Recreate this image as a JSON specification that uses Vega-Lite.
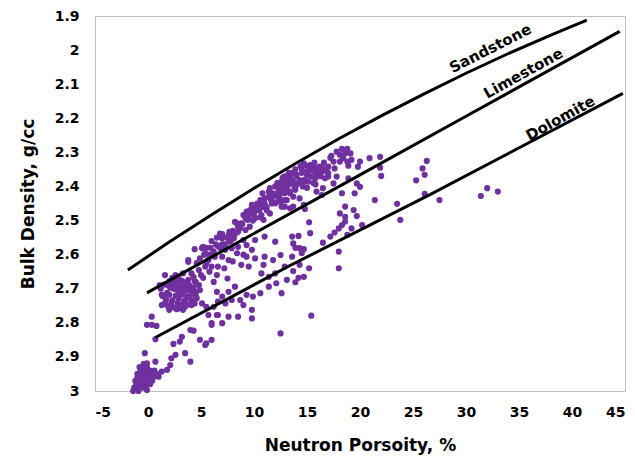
{
"$schema": "https://vega.github.io/schema/vega-lite/v6.json",
"width": 530, "height": 375,
"autosize": {"type": "none"},
"padding": {"left": 95, "top": 16, "right": 10, "bottom": 66},
"background": "white",
"config": {
  "font": "DejaVu Sans",
  "view": {"stroke": "#bfbfbf", "strokeWidth": 1},
  "axis": {"grid": false, "ticks": false, "tickSize": 0, "domain": false, "labelOverlap": false, "labelFont": "DejaVu Sans", "labelFontWeight": "bold", "labelFontSize": 14, "labelColor": "black", "titleFont": "DejaVu Sans", "titleFontWeight": "bold", "titleFontSize": 17, "titleColor": "black"}
},
"datasets": {
"points": [
{"np":21.9,"rhob":2.313},{"np":21.9,"rhob":2.345},{"np":22.0,"rhob":2.369},{"np":26.3,"rhob":2.325},{"np":25.9,"rhob":2.347},{"np":26.1,"rhob":2.366},{"np":25.3,"rhob":2.382},{"np":26.1,"rhob":2.422},{"np":27.5,"rhob":2.44},{"np":23.5,"rhob":2.451},{"np":23.8,"rhob":2.498},{"np":31.4,"rhob":2.428},{"np":32.0,"rhob":2.405},{"np":33.0,"rhob":2.415},
{"np":17.2,"rhob":2.316},{"np":17.8,"rhob":2.298},{"np":18.3,"rhob":2.29},{"np":18.8,"rhob":2.29},{"np":19.1,"rhob":2.303},{"np":18.4,"rhob":2.317},{"np":18.1,"rhob":2.327},{"np":18.9,"rhob":2.339},{"np":19.2,"rhob":2.322},{"np":20.0,"rhob":2.327},{"np":19.8,"rhob":2.342},{"np":20.9,"rhob":2.317},{"np":17.8,"rhob":2.371},{"np":17.0,"rhob":2.371},{"np":17.5,"rhob":2.391},{"np":16.5,"rhob":2.405},{"np":18.3,"rhob":2.42},{"np":18.9,"rhob":2.376},{"np":19.7,"rhob":2.391},{"np":20.0,"rhob":2.401},{"np":19.5,"rhob":2.42},{"np":21.4,"rhob":2.44},{"np":15.8,"rhob":2.394},{"np":15.0,"rhob":2.404},{"np":15.9,"rhob":2.415},{"np":16.4,"rhob":2.425},{"np":13.9,"rhob":2.41},{"np":14.3,"rhob":2.435},{"np":13.7,"rhob":2.43},{"np":13.1,"rhob":2.44},{"np":14.7,"rhob":2.454},{"np":14.8,"rhob":2.466},{"np":13.7,"rhob":2.459},{"np":12.9,"rhob":2.459},{"np":18.6,"rhob":2.459},{"np":18.1,"rhob":2.479},{"np":18.6,"rhob":2.489},{"np":19.4,"rhob":2.469},{"np":19.7,"rhob":2.487},{"np":18.6,"rhob":2.503},{"np":18.3,"rhob":2.513},{"np":18.0,"rhob":2.523},{"np":19.2,"rhob":2.523},{"np":20.2,"rhob":2.513},{"np":17.6,"rhob":2.535},{"np":17.2,"rhob":2.547},{"np":16.5,"rhob":2.565},{"np":18.8,"rhob":2.542},{"np":15.2,"rhob":2.505},{"np":15.3,"rhob":2.537},{"np":13.6,"rhob":2.547},{"np":14.2,"rhob":2.545},{"np":13.7,"rhob":2.567},{"np":13.9,"rhob":2.58},{"np":14.3,"rhob":2.581},{"np":14.7,"rhob":2.584},{"np":14.5,"rhob":2.596},{"np":18.0,"rhob":2.591},{"np":18.0,"rhob":2.64},{"np":15.2,"rhob":2.64},{"np":14.3,"rhob":2.63},{"np":13.7,"rhob":2.648},{"np":14.2,"rhob":2.668},{"np":14.7,"rhob":2.665},{"np":13.9,"rhob":2.681},{"np":12.6,"rhob":2.713},{"np":15.4,"rhob":2.779},{"np":12.5,"rhob":2.831},{"np":12.5,"rhob":2.601},
{"np":13.1,"rhob":2.376},{"np":13.6,"rhob":2.361},{"np":14.0,"rhob":2.366},{"np":14.5,"rhob":2.347},{"np":14.8,"rhob":2.337},{"np":15.3,"rhob":2.352},{"np":15.6,"rhob":2.342},{"np":15.9,"rhob":2.347},{"np":16.2,"rhob":2.342},{"np":16.5,"rhob":2.347},{"np":16.1,"rhob":2.361},{"np":15.4,"rhob":2.371},{"np":15.0,"rhob":2.366},{"np":14.3,"rhob":2.381},{"np":13.7,"rhob":2.386},{"np":13.2,"rhob":2.396},{"np":12.8,"rhob":2.405},{"np":12.6,"rhob":2.386},{"np":12.9,"rhob":2.42},{"np":13.4,"rhob":2.415},{"np":14.0,"rhob":2.396},{"np":14.7,"rhob":2.386},{"np":15.1,"rhob":2.386},{"np":15.8,"rhob":2.376},{"np":16.7,"rhob":2.376},{"np":16.9,"rhob":2.357},{"np":17.0,"rhob":2.342},{"np":17.5,"rhob":2.327},{"np":17.6,"rhob":2.347},{"np":18.1,"rhob":2.307},{"np":18.6,"rhob":2.303},{"np":18.8,"rhob":2.327},{"np":16.4,"rhob":2.357},{"np":15.3,"rhob":2.337},{"np":14.7,"rhob":2.332},{"np":13.4,"rhob":2.371},{"np":12.5,"rhob":2.415},{"np":12.5,"rhob":2.445},{"np":12.8,"rhob":2.459},{"np":13.4,"rhob":2.464},
{"np":12.9,"rhob":2.391},{"np":13.2,"rhob":2.376},{"np":12.6,"rhob":2.41},{"np":11.8,"rhob":2.425},{"np":11.4,"rhob":2.415},{"np":11.0,"rhob":2.435},{"np":12.0,"rhob":2.449},{"np":12.6,"rhob":2.459},{"np":12.9,"rhob":2.44},{"np":13.4,"rhob":2.42},{"np":10.6,"rhob":2.454},{"np":10.1,"rhob":2.469},{"np":9.8,"rhob":2.479},{"np":9.3,"rhob":2.474},{"np":9.2,"rhob":2.493},{"np":10.1,"rhob":2.493},{"np":10.7,"rhob":2.484},{"np":11.5,"rhob":2.479},{"np":8.8,"rhob":2.508},{"np":8.4,"rhob":2.508},{"np":7.7,"rhob":2.533},{"np":8.5,"rhob":2.533},{"np":9.2,"rhob":2.528},{"np":9.6,"rhob":2.518},{"np":8.1,"rhob":2.552},{"np":7.6,"rhob":2.562},{"np":7.0,"rhob":2.552},{"np":6.6,"rhob":2.575},{"np":7.3,"rhob":2.586},{"np":7.9,"rhob":2.581},{"np":8.5,"rhob":2.577},{"np":8.4,"rhob":2.596},{"np":6.3,"rhob":2.606},{"np":7.0,"rhob":2.606},{"np":7.6,"rhob":2.616},{"np":5.7,"rhob":2.616},{"np":5.1,"rhob":2.581},{"np":4.4,"rhob":2.584},{"np":4.9,"rhob":2.611},{"np":5.4,"rhob":2.635},{"np":6.0,"rhob":2.635},{"np":6.6,"rhob":2.635},{"np":4.8,"rhob":2.645},{"np":4.1,"rhob":2.655},{"np":3.8,"rhob":2.674},{"np":4.4,"rhob":2.679},{"np":3.5,"rhob":2.694},{"np":4.0,"rhob":2.704},{"np":3.7,"rhob":2.723},{"np":4.1,"rhob":2.733},{"np":3.8,"rhob":2.616},{"np":6.8,"rhob":2.538},{"np":7.6,"rhob":2.543},{"np":9.0,"rhob":2.557},{"np":9.3,"rhob":2.572},{"np":10.1,"rhob":2.557},{"np":11.0,"rhob":2.547},{"np":12.0,"rhob":2.562},{"np":9.8,"rhob":2.586},{"np":9.3,"rhob":2.606},{"np":10.1,"rhob":2.611},{"np":11.0,"rhob":2.606},{"np":11.8,"rhob":2.616},{"np":10.9,"rhob":2.63},{"np":9.5,"rhob":2.635},{"np":10.7,"rhob":2.655},{"np":11.4,"rhob":2.665},{"np":12.0,"rhob":2.655},{"np":12.9,"rhob":2.635},{"np":13.6,"rhob":2.606},{"np":13.1,"rhob":2.674},{"np":12.1,"rhob":2.684},{"np":11.4,"rhob":2.694},{"np":10.6,"rhob":2.713},{"np":9.9,"rhob":2.723},{"np":9.3,"rhob":2.718},{"np":8.7,"rhob":2.733},{"np":9.0,"rhob":2.748},{"np":8.2,"rhob":2.694},{"np":7.6,"rhob":2.709},{"np":7.0,"rhob":2.723},{"np":6.5,"rhob":2.709},{"np":6.6,"rhob":2.738},{"np":7.3,"rhob":2.743},{"np":7.9,"rhob":2.733},{"np":6.2,"rhob":2.753},{"np":5.5,"rhob":2.753},{"np":5.1,"rhob":2.743},{"np":4.4,"rhob":2.743},{"np":6.5,"rhob":2.777},{"np":7.0,"rhob":2.801},{"np":7.6,"rhob":2.782},{"np":8.5,"rhob":2.782},{"np":9.8,"rhob":2.787},{"np":9.8,"rhob":2.762},{"np":6.0,"rhob":2.801},{"np":4.9,"rhob":2.85},{"np":5.5,"rhob":2.86},{"np":6.0,"rhob":2.85},{"np":4.0,"rhob":2.821},
{"np":3.7,"rhob":2.683},{"np":4.3,"rhob":2.666},{"np":4.8,"rhob":2.689},{"np":5.2,"rhob":2.668},{"np":4.5,"rhob":2.71},{"np":3.2,"rhob":2.713},{"np":9.0,"rhob":2.484},{"np":9.4,"rhob":2.498},{"np":9.8,"rhob":2.454},{"np":10.4,"rhob":2.469},{"np":10.9,"rhob":2.498},{"np":11.2,"rhob":2.46},{"np":11.7,"rhob":2.434},{"np":8.7,"rhob":2.522},{"np":8.2,"rhob":2.504},{"np":12.3,"rhob":2.405},{"np":12.7,"rhob":2.375},{"np":11.5,"rhob":2.405},{"np":12.1,"rhob":2.425},{"np":13.4,"rhob":2.39},
{"np":5.2,"rhob":2.577},{"np":5.4,"rhob":2.596},{"np":3.8,"rhob":2.621},{"np":4.6,"rhob":2.625},{"np":5.5,"rhob":2.625},{"np":1.6,"rhob":2.66},{"np":2.6,"rhob":2.66},{"np":3.3,"rhob":2.655},{"np":1.1,"rhob":2.689},{"np":1.3,"rhob":2.718},{"np":1.6,"rhob":2.743},{"np":2.2,"rhob":2.753},{"np":2.9,"rhob":2.757},{"np":3.5,"rhob":2.753},{"np":4.1,"rhob":2.748},{"np":4.6,"rhob":2.728},{"np":4.9,"rhob":2.704},{"np":0.35,"rhob":2.782},{"np":6.8,"rhob":2.547},{"np":7.3,"rhob":2.577},{"np":7.7,"rhob":2.533},
{"np":1.2,"rhob":2.7},{"np":1.5,"rhob":2.688},{"np":1.8,"rhob":2.712},{"np":2.1,"rhob":2.697},{"np":2.4,"rhob":2.685},{"np":2.7,"rhob":2.703},{"np":3.0,"rhob":2.692},{"np":3.3,"rhob":2.701},{"np":3.6,"rhob":2.706},{"np":1.4,"rhob":2.722},{"np":1.7,"rhob":2.731},{"np":2.0,"rhob":2.718},{"np":2.3,"rhob":2.734},{"np":2.6,"rhob":2.721},{"np":2.9,"rhob":2.729},{"np":3.2,"rhob":2.717},{"np":3.5,"rhob":2.733},{"np":3.8,"rhob":2.725},{"np":4.1,"rhob":2.716},{"np":1.6,"rhob":2.744},{"np":1.9,"rhob":2.752},{"np":2.2,"rhob":2.741},{"np":2.5,"rhob":2.755},{"np":2.8,"rhob":2.742},{"np":3.1,"rhob":2.749},{"np":3.4,"rhob":2.738},{"np":3.7,"rhob":2.746},{"np":2.0,"rhob":2.678},{"np":2.3,"rhob":2.668},{"np":2.6,"rhob":2.679},{"np":2.9,"rhob":2.671},{"np":3.2,"rhob":2.677},{"np":3.5,"rhob":2.682},{"np":3.9,"rhob":2.69},{"np":4.3,"rhob":2.697},{"np":4.5,"rhob":2.72},{"np":1.3,"rhob":2.748},{"np":2.7,"rhob":2.76},{"np":3.3,"rhob":2.762},{"np":2.0,"rhob":2.762},
{"np":-0.1,"rhob":2.806},{"np":0.35,"rhob":2.806},{"np":0.8,"rhob":2.809},{"np":0.7,"rhob":2.848},{"np":-0.3,"rhob":2.889},{"np":4.3,"rhob":2.823},{"np":3.2,"rhob":2.841},{"np":2.4,"rhob":2.862},{"np":3.0,"rhob":2.855},{"np":5.4,"rhob":2.865},{"np":6.0,"rhob":2.806},{"np":5.7,"rhob":2.777},{"np":6.6,"rhob":2.777},{"np":3.5,"rhob":2.889},{"np":2.2,"rhob":2.904},{"np":2.6,"rhob":2.894},{"np":4.0,"rhob":2.914},{"np":2.1,"rhob":2.924},{"np":1.8,"rhob":2.938},{"np":1.3,"rhob":2.943},{"np":1.0,"rhob":2.958},{"np":0.7,"rhob":2.914},{"np":-0.1,"rhob":2.919},{"np":-0.1,"rhob":2.997},
{"np":-1.3,"rhob":2.99},{"np":-1.1,"rhob":2.98},{"np":-0.9,"rhob":2.99},{"np":-0.7,"rhob":2.98},{"np":-0.5,"rhob":2.99},{"np":-0.3,"rhob":2.98},{"np":-1.2,"rhob":2.97},{"np":-1.0,"rhob":2.96},{"np":-0.8,"rhob":2.97},{"np":-0.6,"rhob":2.96},{"np":-0.4,"rhob":2.97},{"np":-0.2,"rhob":2.96},{"np":0.0,"rhob":2.97},{"np":-1.0,"rhob":2.95},{"np":-0.7,"rhob":2.94},{"np":-0.5,"rhob":2.95},{"np":-0.3,"rhob":2.94},{"np":-0.1,"rhob":2.95},{"np":0.1,"rhob":2.96},{"np":0.3,"rhob":2.95},{"np":0.5,"rhob":2.96},{"np":-0.6,"rhob":2.93},{"np":-0.4,"rhob":2.92},{"np":-0.1,"rhob":2.93},{"np":0.2,"rhob":2.94},{"np":0.6,"rhob":2.94},{"np":0.8,"rhob":2.95},{"np":-1.4,"rhob":3.0},{"np":-0.9,"rhob":3.0},{"np":0.2,"rhob":2.98},{"np":-0.8,"rhob":2.93},{"np":0.4,"rhob":2.97},
{"np":9.8,"rhob":2.46},{"np":10.3,"rhob":2.45},{"np":10.6,"rhob":2.44},{"np":11.0,"rhob":2.45},{"np":11.4,"rhob":2.43},{"np":11.8,"rhob":2.42},{"np":12.2,"rhob":2.42},{"np":12.6,"rhob":2.4},{"np":13.0,"rhob":2.39},{"np":10.0,"rhob":2.48},{"np":10.5,"rhob":2.47},{"np":11.2,"rhob":2.47},{"np":11.7,"rhob":2.45},{"np":12.4,"rhob":2.43},{"np":13.1,"rhob":2.41},{"np":9.5,"rhob":2.49},{"np":10.8,"rhob":2.42},{"np":12.0,"rhob":2.4},
{"np":13.5,"rhob":2.38},{"np":14.0,"rhob":2.37},{"np":14.5,"rhob":2.36},{"np":15.0,"rhob":2.355},{"np":15.5,"rhob":2.35},{"np":16.0,"rhob":2.36},{"np":16.5,"rhob":2.35},{"np":17.0,"rhob":2.36},{"np":14.2,"rhob":2.39},{"np":14.8,"rhob":2.38},{"np":15.4,"rhob":2.37},{"np":13.8,"rhob":2.4},{"np":16.3,"rhob":2.37},{"np":15.8,"rhob":2.36},
{"np":5.5,"rhob":2.58},{"np":6.0,"rhob":2.56},{"np":6.5,"rhob":2.55},{"np":7.0,"rhob":2.54},{"np":7.5,"rhob":2.55},{"np":8.0,"rhob":2.53},{"np":8.5,"rhob":2.52},{"np":6.2,"rhob":2.59},{"np":7.2,"rhob":2.57},{"np":5.8,"rhob":2.6},{"np":6.8,"rhob":2.58},{"np":7.8,"rhob":2.56},
{"np":5.0,"rhob":2.66},{"np":5.8,"rhob":2.65},{"np":6.5,"rhob":2.66},{"np":7.2,"rhob":2.64},{"np":8.0,"rhob":2.62},{"np":8.8,"rhob":2.63},{"np":4.5,"rhob":2.68},{"np":6.2,"rhob":2.68},{"np":7.5,"rhob":2.67},{"np":9.0,"rhob":2.6},
{"np":9.6,"rhob":2.47},{"np":10.2,"rhob":2.46},{"np":10.9,"rhob":2.46},{"np":11.6,"rhob":2.44},{"np":12.3,"rhob":2.44},{"np":9.9,"rhob":2.5},{"np":10.6,"rhob":2.49},
{"np":12.2,"rhob":2.39},{"np":12.9,"rhob":2.37},{"np":13.3,"rhob":2.36},{"np":13.9,"rhob":2.35},{"np":14.4,"rhob":2.34},{"np":15.1,"rhob":2.34},{"np":15.7,"rhob":2.33},{"np":16.6,"rhob":2.33},{"np":17.3,"rhob":2.31},{"np":14.6,"rhob":2.4},{"np":15.6,"rhob":2.39},
{"np":5.3,"rhob":2.6},{"np":5.9,"rhob":2.58},{"np":6.4,"rhob":2.57},{"np":7.0,"rhob":2.57},{"np":7.7,"rhob":2.54},{"np":8.2,"rhob":2.54},{"np":8.9,"rhob":2.51},
{"np":2.4,"rhob":2.7},{"np":3.0,"rhob":2.71},{"np":1.9,"rhob":2.69},{"np":2.8,"rhob":2.69},{"np":3.6,"rhob":2.69},
{"np":-0.8,"rhob":2.99},{"np":-0.2,"rhob":2.99},{"np":-0.5,"rhob":2.97},{"np":0.0,"rhob":2.95},{"np":-0.3,"rhob":2.96}
],
"lines": [
{"rock":"Sandstone","np":-1.9,"rhob":2.645},{"rock":"Sandstone","np":2,"rhob":2.563},{"rock":"Sandstone","np":6,"rhob":2.483},{"rock":"Sandstone","np":10,"rhob":2.405},{"rock":"Sandstone","np":14,"rhob":2.331},{"rock":"Sandstone","np":18,"rhob":2.26},{"rock":"Sandstone","np":22,"rhob":2.193},{"rock":"Sandstone","np":26,"rhob":2.129},{"rock":"Sandstone","np":30,"rhob":2.068},{"rock":"Sandstone","np":34,"rhob":2.01},{"rock":"Sandstone","np":38,"rhob":1.956},{"rock":"Sandstone","np":41.4,"rhob":1.912},
{"rock":"Limestone","np":-0.1,"rhob":2.712},{"rock":"Limestone","np":10,"rhob":2.538},{"rock":"Limestone","np":20,"rhob":2.366},{"rock":"Limestone","np":30,"rhob":2.194},{"rock":"Limestone","np":44.5,"rhob":1.945},
{"rock":"Dolomite","np":0.7,"rhob":2.843},{"rock":"Dolomite","np":13.4,"rhob":2.632},{"rock":"Dolomite","np":26.6,"rhob":2.424},{"rock":"Dolomite","np":44.8,"rhob":2.127}
],
"labels": [
{"rock":"Sandstone","np":32.3,"rhob":1.995},
{"rock":"Limestone","np":35.4,"rhob":2.068},
{"rock":"Dolomite","np":38.9,"rhob":2.2}
]
},
"layer": [
{
 "data": {"name": "points"},
 "mark": {"type": "circle", "size": 38, "opacity": 1, "color": "#7030a0"},
 "encoding": {
  "x": {"field": "np", "type": "quantitative", "scale": {"domain": [-5, 45], "nice": false, "zero": false},
        "axis": {"values": [-5,0,5,10,15,20,25,30,35,40,45], "tickCount": 20, "labelOverlap": false, "labelExpr": "datum.value < 0 ? '-' + abs(datum.value) : datum.label", "title": "Neutron Porsoity, %", "labelPadding": 14, "titlePadding": 18}},
  "y": {"field": "rhob", "type": "quantitative", "scale": {"domain": [1.9, 3], "reverse": true, "nice": false, "zero": false},
        "axis": {"values": [1.9,2,2.1,2.2,2.3,2.4,2.5,2.6,2.7,2.8,2.9,3], "tickCount": 20, "labelOverlap": false, "labelExpr": "format(datum.value, '~g')", "title": "Bulk Density, g/cc", "labelPadding": 16, "titlePadding": 17}}
 }
},
{
 "data": {"name": "lines"},
 "mark": {"type": "line", "color": "black", "strokeWidth": 3},
 "encoding": {
  "x": {"field": "np", "type": "quantitative"},
  "y": {"field": "rhob", "type": "quantitative"},
  "detail": {"field": "rock", "type": "nominal"}
 }
},
{
 "data": {"name": "labels"},
 "transform": [{"filter": "datum.rock === 'Sandstone'"}],
 "mark": {"type": "text", "angle": 333, "font": "DejaVu Sans", "fontWeight": "bold", "fontSize": 15, "color": "black", "align": "center", "baseline": "middle"},
 "encoding": {"x": {"field": "np", "type": "quantitative"}, "y": {"field": "rhob", "type": "quantitative"}, "text": {"field": "rock"}}
},
{
 "data": {"name": "labels"},
 "transform": [{"filter": "datum.rock !== 'Sandstone'"}],
 "mark": {"type": "text", "angle": 331, "font": "DejaVu Sans", "fontWeight": "bold", "fontSize": 15, "color": "black", "align": "center", "baseline": "middle"},
 "encoding": {"x": {"field": "np", "type": "quantitative"}, "y": {"field": "rhob", "type": "quantitative"}, "text": {"field": "rock"}}
}
]
}
